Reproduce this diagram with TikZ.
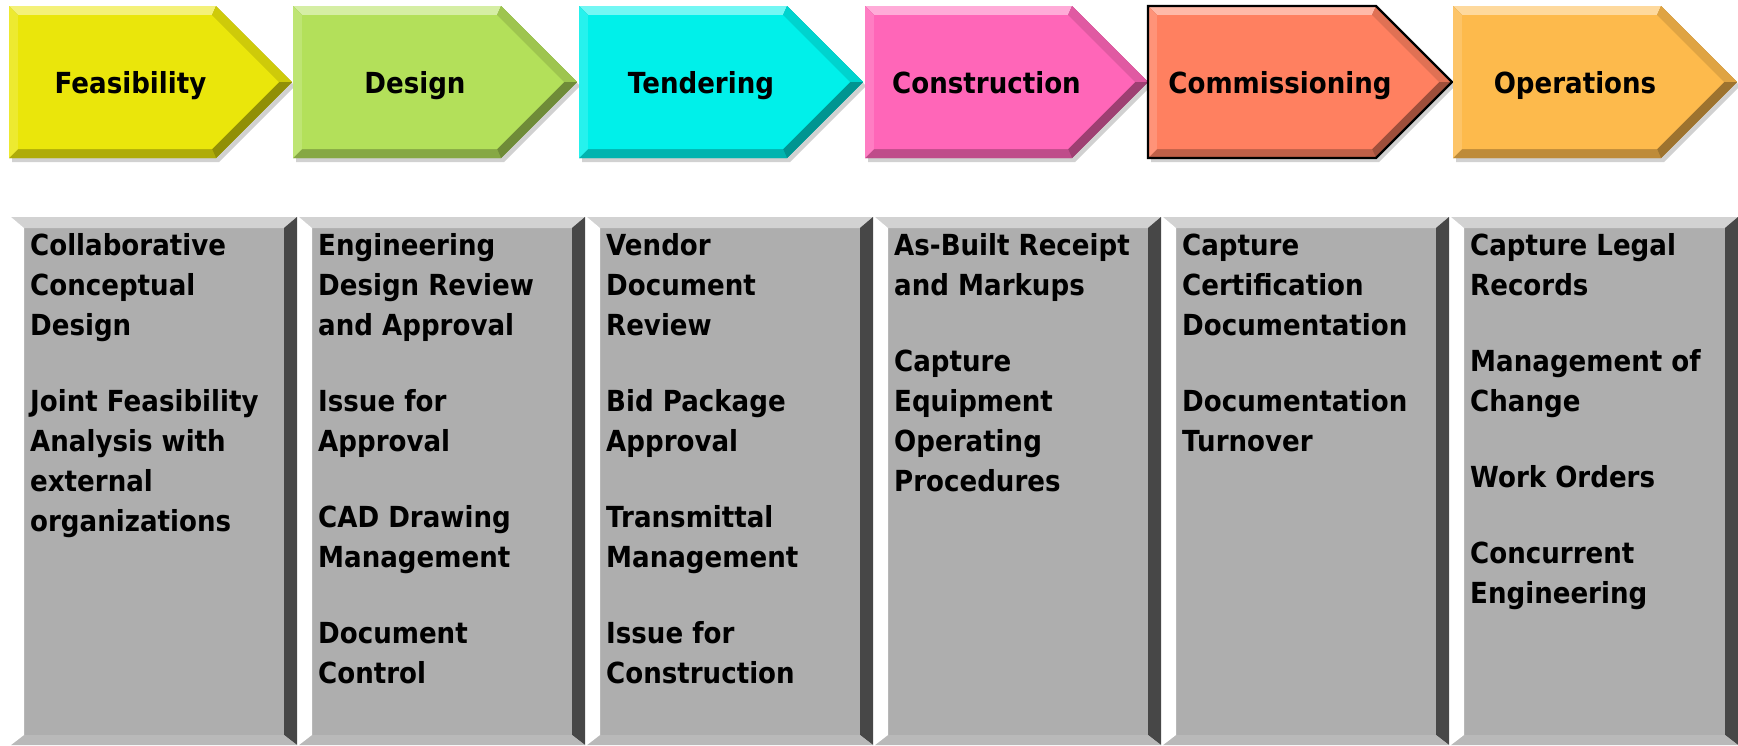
\documentclass[tikz,border=0pt]{standalone}
\usepackage{fontspec}
\setmainfont{DejaVu Sans}[FakeStretch=0.9]
\usetikzlibrary{positioning}

\definecolor{feascol}{HTML}{EAE60B}
\definecolor{desigcol}{HTML}{B3E05A}
\definecolor{tendcol}{HTML}{00F0EA}
\definecolor{constcol}{HTML}{FF66B8}
\definecolor{commcol}{HTML}{FF8060}
\definecolor{opercol}{HTML}{FDBA4C}
\definecolor{boxface}{HTML}{AEAEAE}

\tikzset{
  phase text/.style={font=\fontsize{29}{40}\selectfont\bfseries, inner sep=0pt, anchor=base},
  task text/.style={font=\fontsize{29}{40}\selectfont\bfseries, inner sep=0pt, anchor=north west, align=left},
}

% bevelled arrow: left, right, colour, name, label
\newcommand{\phasearrow}[5]{%
  \pgfmathsetmacro{\sx}{#2-76}%
  \pgfmathsetmacro{\sxi}{#2-80}%
  \pgfmathsetmacro{\tx}{#2-13}%
  \pgfmathsetmacro{\lx}{#1+9}%
  \pgfmathsetmacro{\cx}{(#1+#2-40)/2}%
  \fill[black,opacity=0.18] (#1+3,10) -- (\sx+3,10) -- (#2+3,86) -- (\sx+3,162) -- (#1+3,162) -- cycle;
  \fill[#3!70!black] (#1,6) -- (\sx,6) -- (#2,82) -- (\sx,158) -- (#1,158) -- cycle;
  \fill[#3!55!white] (#1,6) -- (\sx,6) -- (\sxi,15) -- (\lx,15) -- cycle;
  \fill[#3!88!black] (\sx,6) -- (#2,82) -- (\tx,82) -- (\sxi,15) -- cycle;
  \fill[#3!62!black] (#2,82) -- (\sx,158) -- (\sxi,149) -- (\tx,82) -- cycle;
  \fill[#3!75!black] (\sx,158) -- (#1,158) -- (\lx,149) -- (\sxi,149) -- cycle;
  \fill[#3!85!white] (#1,158) -- (#1,6) -- (\lx,15) -- (\lx,149) -- cycle;
  \fill[#3] (\lx,15) -- (\sxi,15) -- (\tx,82) -- (\sxi,149) -- (\lx,149) -- cycle;
  \node[phase text] (#4) at (\cx,93) {#5};
}

% bevelled grey column: left, right
\newcommand{\taskbox}[2]{%
  \pgfmathsetmacro{\li}{#1+13}%
  \pgfmathsetmacro{\ri}{#2-13}%
  \fill[boxface] (#1,217) rectangle (#2,745);
  \fill[gray!35] (#1,217) -- (#2,217) -- (\ri,228) -- (\li,228) -- cycle;
  \fill[black!72] (#2,217) -- (#2,745) -- (\ri,735) -- (\ri,228) -- cycle;
  \fill[gray!55] (#2,745) -- (#1,745) -- (\li,735) -- (\ri,735) -- cycle;
  \fill[white] (#1,745) -- (#1,217) -- (\li,228) -- (\li,735) -- cycle;
}

\begin{document}
\begin{tikzpicture}[x=1pt,y=-1pt]
  \useasboundingbox (0,0) rectangle (1738,745);

  % phases
  \phasearrow{9}{292}{feascol}{feas}{Feasibility}
  \phasearrow{293}{577}{desigcol}{desig}{Design}
  \phasearrow{579}{863}{tendcol}{tend}{Tendering}
  \phasearrow{865}{1148}{constcol}{const}{Construction}
  \phasearrow{1148}{1452}{commcol}{comm}{Commissioning}
  \draw[black,line width=2.2pt,line join=miter] (1148,6) -- (1376,6) -- (1452,82) -- (1376,158) -- (1148,158) -- cycle;
  \phasearrow{1453}{1737}{opercol}{oper}{Operations}

  % columns
  \taskbox{11}{297}
  \taskbox{299}{585}
  \taskbox{587}{873}
  \taskbox{875}{1161}
  \taskbox{1163}{1449}
  \taskbox{1451}{1738}

  \node[task text] (feastasks) at (30,227) {\strut Collaborative\\Conceptual\\Design\\[36pt]
    Joint Feasibility\\Analysis with\\external\\organizations};
  \node[task text] (desigtasks) at (318,227) {\strut Engineering\\Design Review\\and Approval\\[36pt]
    Issue for\\Approval\\[36pt]CAD Drawing\\Management\\[36pt]Document\\Control};
  \node[task text] (tendtasks) at (606,227) {\strut Vendor\\Document\\Review\\[36pt]
    Bid Package\\Approval\\[36pt]Transmittal\\Management\\[36pt]Issue for\\Construction};
  \node[task text] (consttasks) at (894,227) {\strut As-Built Receipt\\and Markups\\[36pt]
    Capture\\Equipment\\Operating\\Procedures};
  \node[task text] (commtasks) at (1182,227) {\strut Capture\\Certification\\Documentation\\[36pt]
    Documentation\\Turnover};
  \node[task text] (opertasks) at (1470,227) {\strut Capture Legal\\Records\\[36pt]
    Management of\\Change\\[36pt]Work Orders\\[36pt]Concurrent\\Engineering};
\end{tikzpicture}
\end{document}
